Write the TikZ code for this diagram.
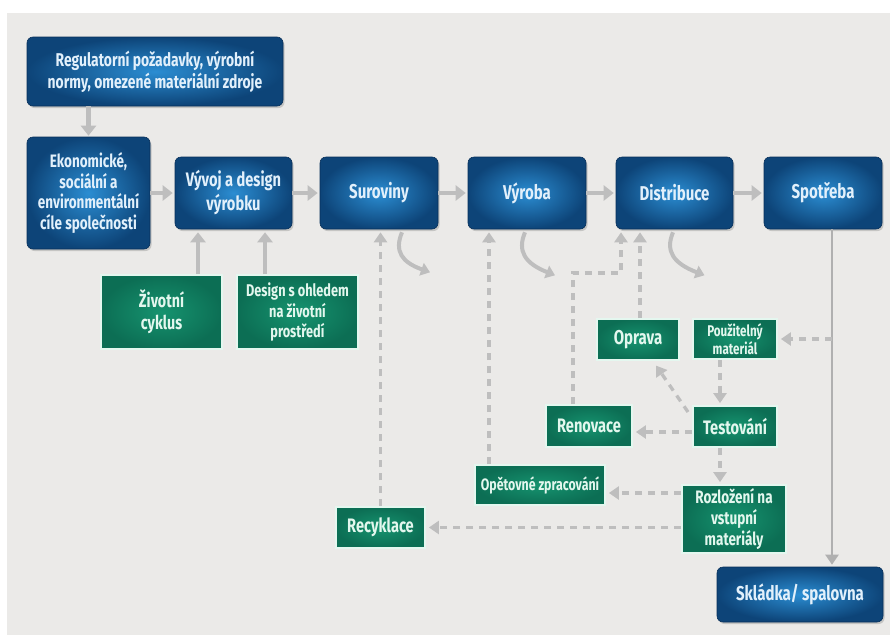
\documentclass[tikz,border=0pt]{standalone}
\usepackage{fontspec}
\setmainfont{Fira Sans}[FakeStretch=0.75]
\usetikzlibrary{arrows.meta,shadows,calc}
\definecolor{bg}{HTML}{EBEAE8}
\definecolor{blueIn}{HTML}{2B8DD2}
\definecolor{blueOut}{HTML}{0D4478}
\definecolor{blueEdge}{HTML}{08305A}
\definecolor{blueText}{HTML}{E2F0FB}
\definecolor{greenIn}{HTML}{16936F}
\definecolor{greenOut}{HTML}{0C6E54}
\definecolor{mint}{HTML}{E4F7EF}
\definecolor{greenText}{HTML}{E3F7EE}
\definecolor{arrgrey}{HTML}{BEBEBE}
\definecolor{lineGrey}{HTML}{B0B0B0}
\tikzset{
  bluebox/.style={rounded corners=6pt, draw=blueEdge, line width=0.6pt,
    inner color=blueIn, outer color=blueOut,
    drop shadow={opacity=0.35, shadow xshift=1.5pt, shadow yshift=-2pt},
    text=blueText, align=center, inner sep=1pt,
    font=\bfseries\fontsize{20}{24}\selectfont},
  greenbox/.style={draw=mint, line width=1.8pt,
    inner color=greenIn, outer color=greenOut,
    text=greenText, align=center, inner sep=1pt,
    font=\bfseries\fontsize{19.5}{21}\selectfont},
  solidarr/.style={draw=arrgrey, line width=4.5pt, -{Triangle[length=10pt,width=15pt]}},
  dasharr/.style={draw=arrgrey, line width=3.3pt, dash pattern=on 7pt off 6pt,
    -{Triangle[length=10pt,width=13pt]}},
  curvearr/.style={draw=arrgrey, line width=4pt, -{Triangle[length=9pt,width=13pt]}},
  mainline/.style={draw=lineGrey, line width=2.2pt, -{Triangle[length=10pt,width=13pt]}}
}
\begin{document}
\begin{tikzpicture}[x=1pt,y=-1pt]
\useasboundingbox (0,0) rectangle (890,635);
\fill[white] (0,0) rectangle (890,635);
\fill[bg] (7,13) rectangle (890,635);

% blue boxes
\node[bluebox, minimum width=256pt, minimum height=69pt, font=\bfseries\fontsize{18.5}{22}\selectfont] (reg) at (155,71.5)
  {Regulatorní požadavky, výrobní\\normy, omezené materiální zdroje};
\node[bluebox, minimum width=123pt, minimum height=112pt, font=\bfseries\fontsize{18}{20.5}\selectfont] (eko) at (88.5,193)
  {Ekonomické,\\sociální a\\environmentální\\cíle společnosti};
\node[bluebox, minimum width=117pt, minimum height=72pt, font=\bfseries\fontsize{19.5}{24}\selectfont] (vyv) at (233.5,193) {Vývoj a design\\výrobku};
\node[bluebox, minimum width=118pt, minimum height=72pt] (sur) at (379,193) {Suroviny};
\node[bluebox, minimum width=118pt, minimum height=72pt] (vyr) at (527,193) {Výroba};
\node[bluebox, minimum width=117pt, minimum height=72pt] (dis) at (674.5,193) {Distribuce};
\node[bluebox, minimum width=118pt, minimum height=72pt] (spo) at (823,193) {Spotřeba};
\node[bluebox, minimum width=166pt, minimum height=55pt] (skl) at (800,594.5) {Skládka/ spalovna};

% green boxes
\node[greenbox, minimum width=121pt, minimum height=74pt, font=\bfseries\fontsize{19}{22}\selectfont] (ziv) at (161.5,312) {Životní\\cyklus};
\node[greenbox, minimum width=121pt, minimum height=74pt, font=\bfseries\fontsize{17}{20.5}\selectfont] (des) at (297.5,312) {Design s ohledem\\na životní\\prostředí};
\node[greenbox, minimum width=82pt, minimum height=41pt, font=\bfseries\fontsize{20}{21}\selectfont] (opr) at (638,339.5) {Oprava};
\node[greenbox, minimum width=84pt, minimum height=40pt, font=\bfseries\fontsize{15.5}{18}\selectfont] (pou) at (735,339) {Použitelný\\materiál};
\node[greenbox, minimum width=86pt, minimum height=42pt] (ren) at (589,426) {Renovace};
\node[greenbox, minimum width=84pt, minimum height=41pt] (tes) at (735,426.5) {Testování};
\node[greenbox, minimum width=130pt, minimum height=40pt, font=\bfseries\fontsize{16.5}{18}\selectfont] (ope) at (540,485) {Opětovné zpracování};
\node[greenbox, minimum width=104pt, minimum height=68pt, font=\bfseries\fontsize{18}{21}\selectfont] (roz) at (734,519) {Rozložení na\\vstupní\\materiály};
\node[greenbox, minimum width=89pt, minimum height=41pt] (rec) at (380.5,527.5) {Recyklace};

% helper coordinates
\coordinate (xz) at (198,0);
\coordinate (xd) at (265,0);
\coordinate (xov) at (489,0);
\coordinate (rdA) at (573,273);
\coordinate (rdB) at (621,273);
\coordinate (xop) at (640,0);
\coordinate (xs) at (832,0);
\coordinate (xt) at (720,0);
\coordinate (ytr) at (0,432);
\coordinate (yro) at (0,493);
\coordinate (ysp) at (0,339);
\coordinate (dgA) at (688,412);
\coordinate (dgB) at (655,364);

% solid arrows
\draw[solidarr, shorten >=1pt] (reg.south -| eko.north) -- (eko.north);
\draw[solidarr, shorten >=2pt] (eko.east |- vyv.west) -- (vyv.west);
\draw[solidarr, shorten >=2pt] (vyv.east) -- (sur.west);
\draw[solidarr, shorten >=2pt] (sur.east) -- (vyr.west);
\draw[solidarr, shorten >=2pt] (vyr.east) -- (dis.west);
\draw[solidarr, shorten >=2pt] (dis.east) -- (spo.west);
\draw[solidarr, line width=3.5pt, shorten >=3pt] (ziv.north -| xz) -- (vyv.south -| xz);
\draw[solidarr, line width=3.5pt, shorten >=3pt] (des.north -| xd) -- (vyv.south -| xd);

% main line to landfill
\draw[mainline, shorten >=2pt] (spo.south -| xs) -- (skl.north -| xs);

% curved waste arrows
\draw[curvearr] ($(sur.south)+(23,3)$) .. controls ($(sur.south)+(15,22)$) and ($(sur.south)+(23,33)$) .. ($(sur.south)+(51,43)$);
\draw[curvearr] ($(vyr.south)+(-2,3)$) .. controls ($(vyr.south)+(-10,22)$) and ($(vyr.south)+(-2,34)$) .. ($(vyr.south)+(28,46)$);
\draw[curvearr] ($(dis.south)+(-1.5,3)$) .. controls ($(dis.south)+(-9.5,22)$) and ($(dis.south)+(-1,34)$) .. ($(dis.south)+(30,46)$);

% dashed return flows
\draw[dasharr, shorten >=3pt] (rec.north) -- (rec.north |- sur.south);
\draw[dasharr, shorten >=3pt] (ope.north -| xov) -- (vyr.south -| xov);
\draw[dasharr, shorten >=3pt] (ren.north -| rdA) -- (rdA) -- (rdB) -- (dis.south -| rdB);
\draw[dasharr, shorten >=3pt] (opr.north -| xop) -- (dis.south -| xop);
\draw[dasharr, shorten >=3pt] (ysp -| xs) -- (pou.east |- ysp);
\draw[dasharr, shorten >=2pt] (pou.south -| xt) -- (tes.north -| xt);
\draw[dasharr, shorten >=2pt] (tes.south -| xt) -- (roz.north -| xt);
\draw[dasharr, shorten >=3pt] (tes.west |- ytr) -- (ren.east |- ytr);
\draw[dasharr, shorten >=2pt] (dgA) -- (dgB);
\draw[dasharr, shorten >=3pt] (roz.west |- yro) -- (ope.east |- yro);
\draw[dasharr, shorten >=3pt] (roz.west |- rec.east) -- (rec.east);
\end{tikzpicture}
\end{document}
